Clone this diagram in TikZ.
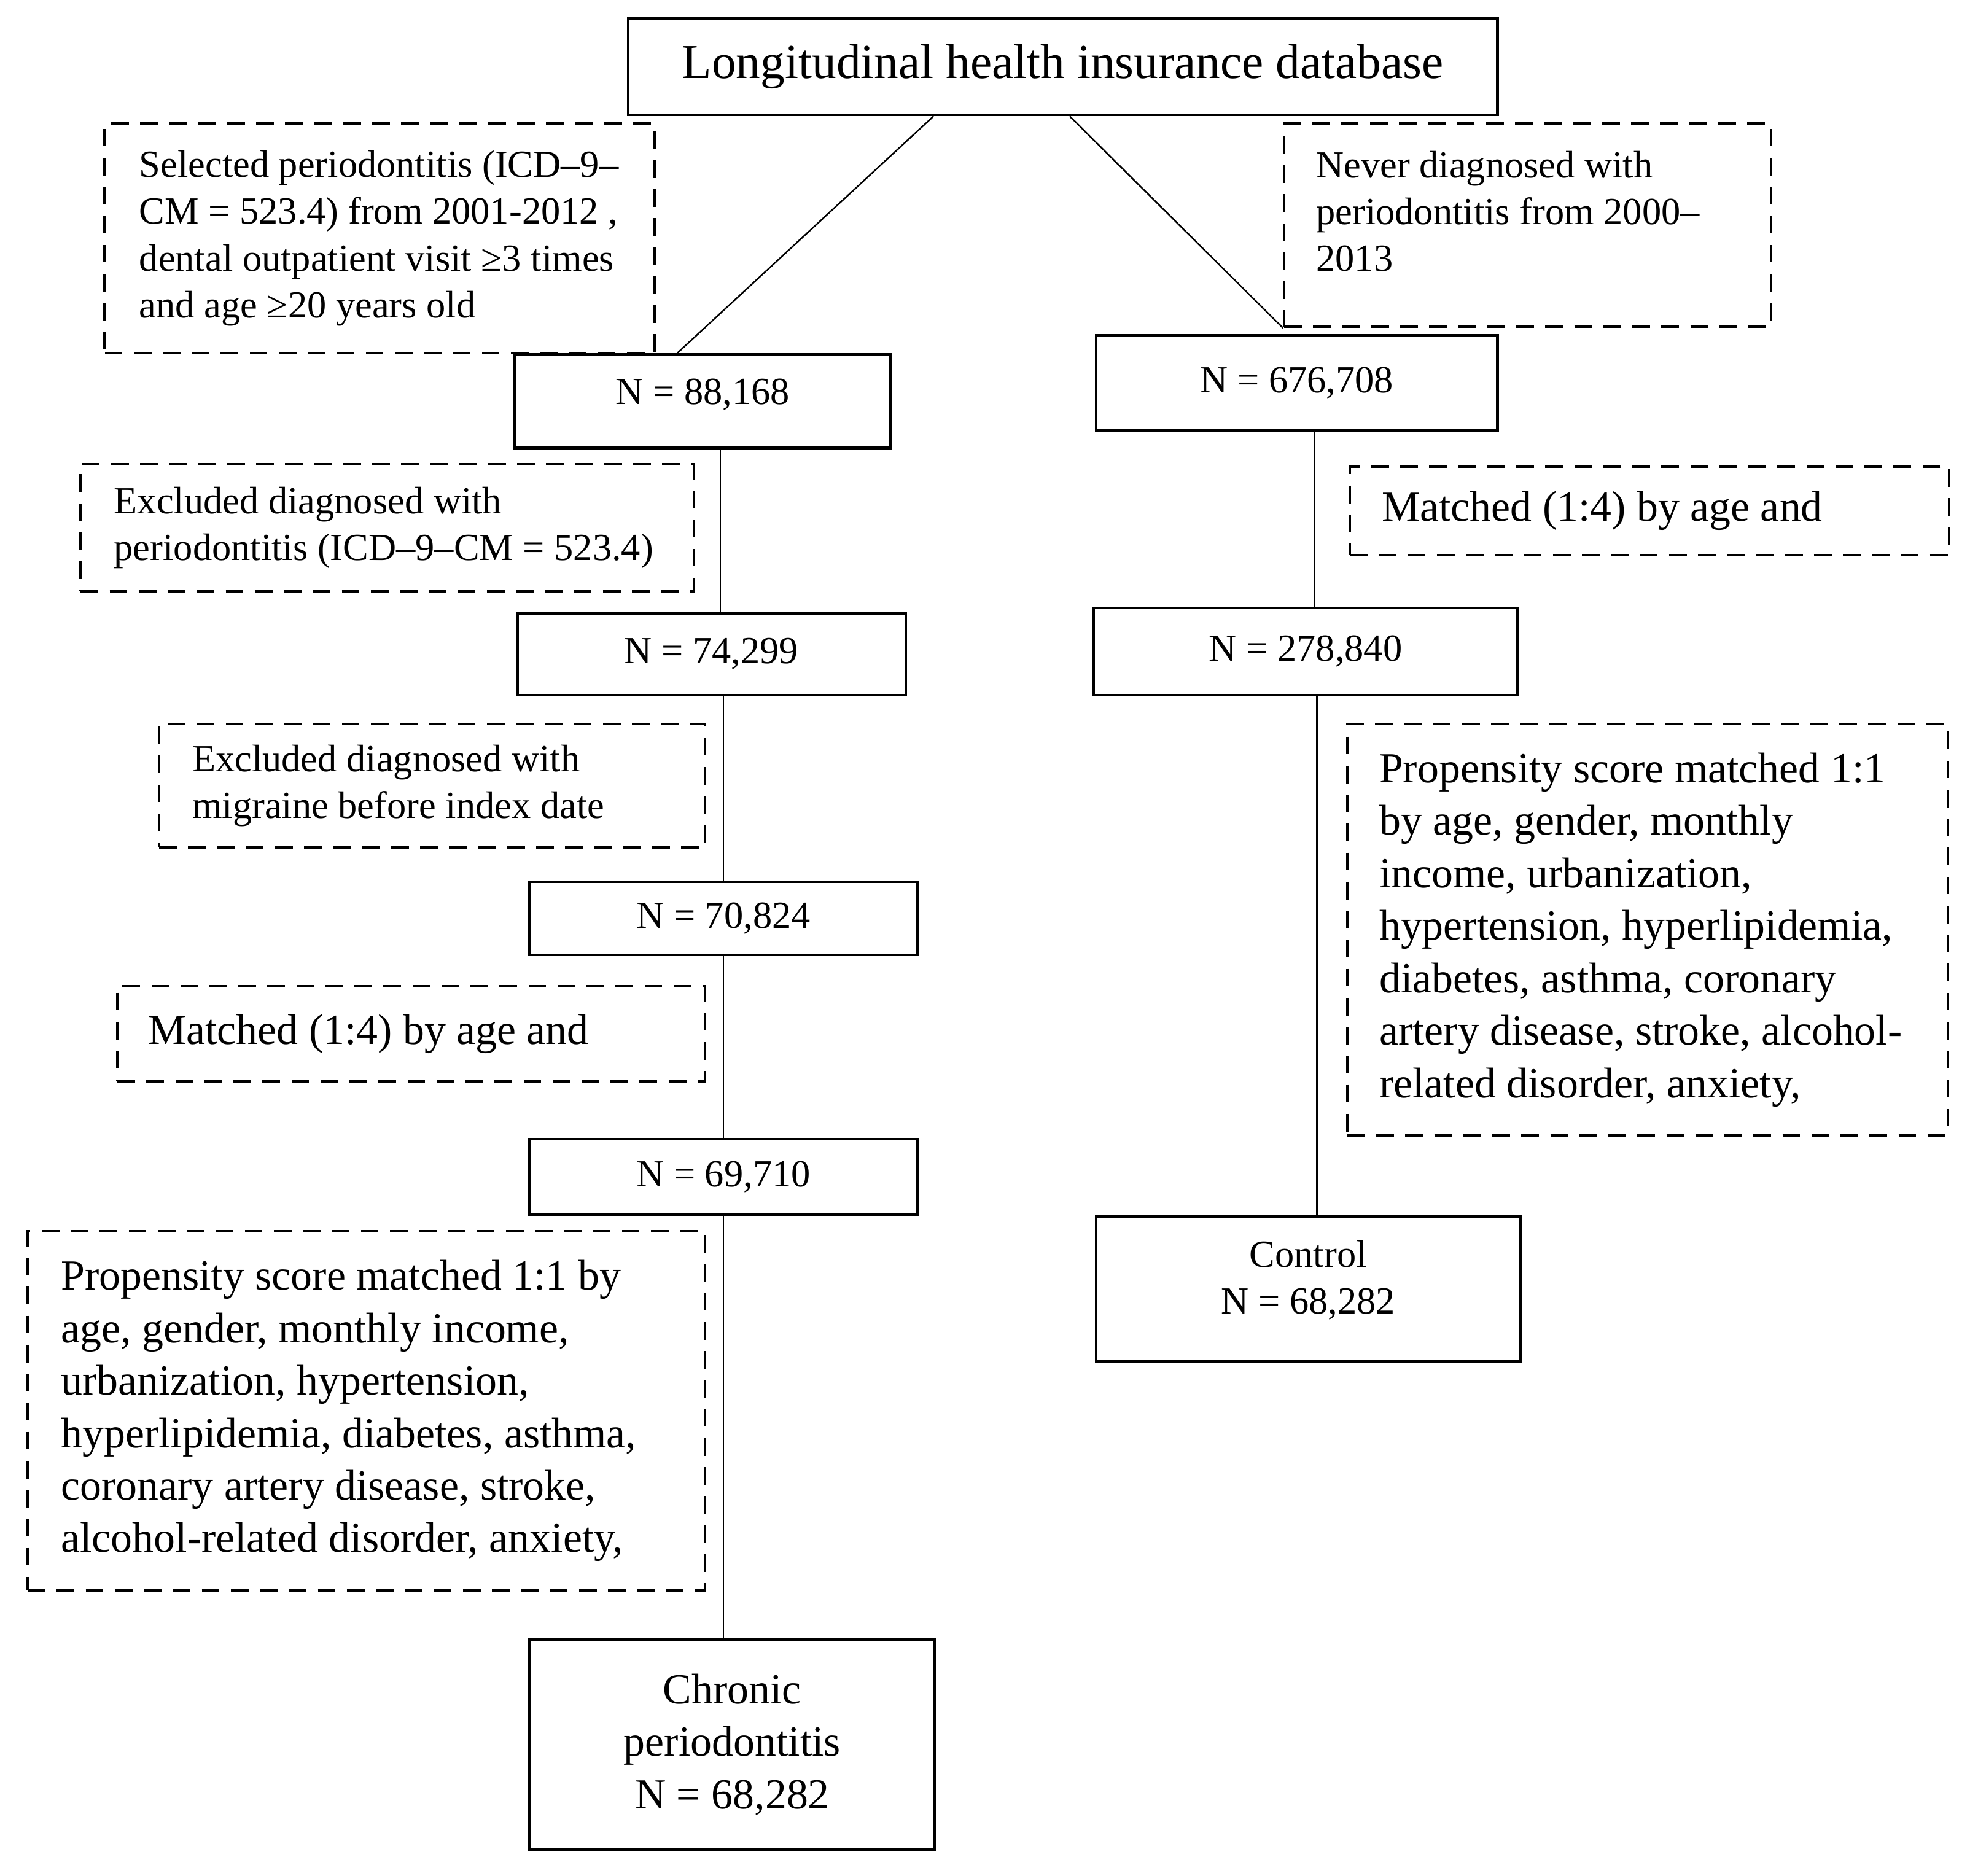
\documentclass[tikz,border=0pt]{standalone}
\usepackage{fontspec}
\setmainfont{Liberation Serif}
\usetikzlibrary{calc}
\begin{document}
\begin{tikzpicture}[x=0.5pt,y=-0.5pt,
 sbox/.style={draw, line width=1.15pt, inner sep=0pt, align=center},
 dbox/.style={draw, line width=1pt, dash pattern=on 7pt off 4.5pt, inner sep=0pt},
 big/.style={font=\fontsize{17}{20.8}\selectfont},
 small/.style={font=\fontsize{15.2}{18.6}\selectfont},
 ttl/.style={font=\fontsize{19.3}{23}\selectfont},
 txt/.style={anchor=west, align=left, inner sep=0pt},
 conn/.style={line width=0.6pt}]
\useasboundingbox (0,0) rectangle (1568,1487);

% top
\node[sbox, ttl, minimum width=344.5pt, minimum height=38pt] (top) at (842.5,53) {Longitudinal health insurance database};

% left branch
\node[dbox, minimum width=218pt, minimum height=91pt] (sel) at (301,189) {};
\node[txt, small] (selT) at ($(sel.west)+(28,0)$) {Selected periodontitis (ICD–9–\\CM = 523.4) from 2001-2012 ,\\dental outpatient visit ≥3 times\\and age ≥20 years old};

\node[sbox, small, minimum width=149pt, minimum height=37pt] (n1) at (557,318) {\raisebox{2.5pt}[\height][\depth]{N = 88,168}};

\node[dbox, minimum width=243pt, minimum height=50.5pt] (exc1) at (307,418.5) {};
\node[txt, small] (exc1T) at ($(exc1.west)+(27,0)$) {Excluded diagnosed with\\periodontitis (ICD–9–CM = 523.4)};

\node[sbox, small, minimum width=154pt, minimum height=32.5pt] (n2) at (564,518.5) {N = 74,299};

\node[dbox, minimum width=216.5pt, minimum height=49pt] (exc2) at (342.5,623) {};
\node[txt, small] (exc2T) at ($(exc2.west)+(27,0)$) {Excluded diagnosed with\\migraine before index date};

\node[sbox, small, minimum width=153.5pt, minimum height=29pt] (n3) at (573.5,728) {N = 70,824};

\node[dbox, minimum width=233pt, minimum height=37.5pt] (matchL) at (326,819.5) {};
\node[txt, big] (matchLT) at ($(matchL.west)+(25,0)$) {Matched (1:4) by age and};

\node[sbox, small, minimum width=153.5pt, minimum height=30pt] (n4) at (573.5,933) {N = 69,710};

\node[dbox, minimum width=268.5pt, minimum height=142.5pt] (propL) at (290.5,1118.5) {};
\node[txt, big] (propLT) at ($(propL.west)+(27,0)$) {Propensity score matched 1:1 by\\age, gender, monthly income,\\urbanization, hypertension,\\hyperlipidemia, diabetes, asthma,\\coronary artery disease, stroke,\\alcohol-related disorder, anxiety,};

\node[sbox, big, minimum width=160.5pt, minimum height=83pt] (chronic) at (580.5,1383) {Chronic\\periodontitis\\N = 68,282};

% right branch
\node[dbox, minimum width=193pt, minimum height=80.5pt] (never) at (1211,178.5) {};
\node[txt, small] (neverT) at ($(never.west)+(26,-11)$) {Never diagnosed with\\periodontitis from 2000–\\2013};

\node[sbox, small, minimum width=159pt, minimum height=37.5pt] (r1) at (1028,303.5) {N = 676,708};

\node[dbox, minimum width=237.5pt, minimum height=35pt] (matchR) at (1307.5,405) {};
\node[txt, big] (matchRT) at ($(matchR.west)+(26,0)$) {Matched (1:4) by age and};

\node[sbox, small, minimum width=168pt, minimum height=34.5pt] (r2) at (1035,516.5) {N = 278,840};

\node[dbox, minimum width=238pt, minimum height=163pt] (propR) at (1306,737) {};
\node[txt, big] (propRT) at ($(propR.west)+(26,0)$) {Propensity score matched 1:1\\by age, gender, monthly\\income, urbanization,\\hypertension, hyperlipidemia,\\diabetes, asthma, coronary\\artery disease, stroke, alcohol-\\related disorder, anxiety,};

\node[sbox, small, minimum width=168pt, minimum height=57.5pt] (control) at (1037,1021.5) {\raisebox{3pt}[\height][\depth]{\begin{tabular}{@{}c@{}}Control\\N = 68,282\end{tabular}}};

% connectors
\draw[conn] ($(top.south)+(-102.5,0)$) -- ($(n1.north)+(-20,0)$);
\draw[conn] ($(top.south)+(5.5,0)$) -- (never.south west);
\draw[conn] ($(n1.south)+(14,0)$) coordinate (a1) -- (a1 |- n2.north);
\draw[conn] (n3.north |- n2.south) -- (n3.north);
\draw[conn] (n3.south) -- (n4.north);
\draw[conn] (n4.south) -- (n4.south |- chronic.north);
\draw[conn] ($(r1.south)+(14,0)$) coordinate (b1) -- (b1 |- r2.north);
\draw[conn] ($(r2.south)+(9,0)$) coordinate (b2) -- (b2 |- control.north);
\end{tikzpicture}
\end{document}
